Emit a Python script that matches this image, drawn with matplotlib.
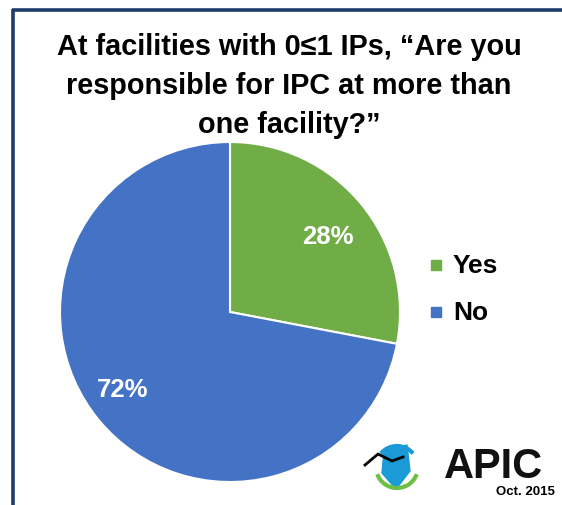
import matplotlib
matplotlib.use("Agg")
import matplotlib.pyplot as plt
from matplotlib.patches import Polygon, Arc, Rectangle
import numpy as np

categories = ["Yes", "No"]
values = [28, 72]
colors = ["#70AD47", "#4472C4"]
title_lines = ["At facilities with 0\u22641 IPs, \u201cAre you",
               "responsible for IPC at more than",
               "one facility?\u201d"]

W, H = 562, 506
fig = plt.figure(figsize=(W / 100, H / 100), dpi=100)
ax = fig.add_axes([0, 0, 1, 1])
ax.set_xlim(0, W)
ax.set_ylim(0, H)
ax.axis("off")

def Y(y):
    return H - y

plt.rcParams['font.family'] = ['Liberation Sans', 'DejaVu Sans']

# border
ax.plot([12, W], [Y(11), Y(11)], color="#1F3B6B", lw=2.6, solid_capstyle="butt")
ax.plot([13.3, 13.3], [Y(10), 0], color="#1F3B6B", lw=2.6, solid_capstyle="butt")

# title
for i, line in enumerate(title_lines):
    ax.text(289, Y(47 + i * 39), line, ha="center", va="center",
            fontsize=20.8, fontweight="bold", color="black")

# pie
cx, cy, r = 230, Y(313), 170
wedges, _, autotexts = ax.pie(values, colors=colors, startangle=90, counterclock=False,
                              center=(cx, cy), radius=r, autopct="%d%%", pctdistance=0.74,
                              wedgeprops=dict(edgecolor="white", linewidth=1.5),
                              textprops=dict(color="white", fontsize=18.5, fontweight="bold"))
label_pos = [(328, Y(237)), (123, Y(390))]
for t, p in zip(autotexts, label_pos):
    t.set_position(p)
ax.set_xlim(0, W)
ax.set_ylim(0, H)
ax.set_aspect("auto")

# legend
for i, (cat, col) in enumerate(zip(categories, colors)):
    yy = Y(266 + i * 47)
    ax.add_patch(Rectangle((431, yy - 5), 10, 10, color=col))
    ax.text(453, yy, cat, ha="left", va="center", fontsize=19, fontweight="bold", color="black")

# logo approximation
shield = Polygon([[384, Y(452)], [407, Y(446)], [410, Y(472)], [396, Y(490)], [382, Y(474)]],
                 closed=True, color="#1A9AD6")
ax.add_patch(shield)
ax.add_patch(Arc((397, Y(468)), 42, 42, theta1=200, theta2=340, color="#6DBE45", lw=3))
ax.add_patch(Arc((397, Y(468)), 42, 42, theta1=40, theta2=140, color="#1A9AD6", lw=3))
ax.plot([365, 378, 392, 403], [Y(466), Y(455), Y(462), Y(458)], color="black", lw=2)
ax.text(444, Y(467), "APIC", ha="left", va="center", fontsize=30, fontweight="heavy",
        color="#111111", fontstretch="condensed")
ax.text(555, Y(492), "Oct. 2015", ha="right", va="center", fontsize=9.5,
        fontweight="bold", color="black")

fig.savefig("out.png", dpi=100)
